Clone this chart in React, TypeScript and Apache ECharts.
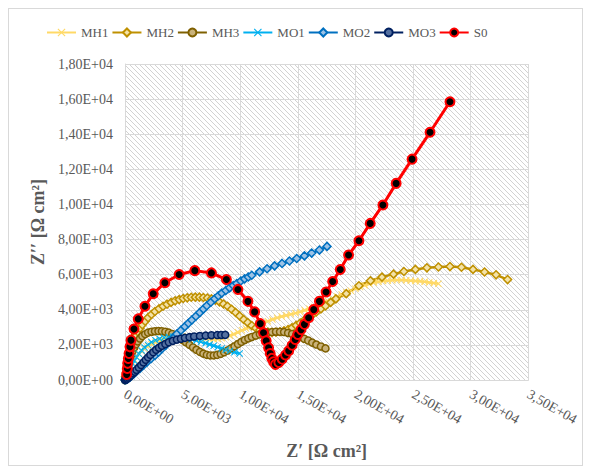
import React, { useEffect, useRef } from "react";
import * as echarts from "echarts";

const seriesNames = ["MH1", "MH2", "MH3", "MO1", "MO2", "MO3", "S0"];
const xTicks = [0, 5000, 10000, 15000, 20000, 25000, 30000, 35000];
const yTicks = [0, 2000, 4000, 6000, 8000, 10000, 12000, 14000, 16000, 18000];

const MH1: number[][] = [
  [0, 0], [80, 130], [150, 250], [220, 370], [300, 500], [400, 650], [500, 800], [650, 980], [800, 1150],
  [1000, 1330], [1200, 1500], [1450, 1650], [1700, 1800], [2000, 1930], [2300, 2050], [2650, 2160],
  [3000, 2250], [3400, 2330], [3800, 2400], [4200, 2450], [4600, 2480], [5000, 2490], [5400, 2480],
  [5800, 2450], [6200, 2420], [6600, 2380], [7000, 2350], [7350, 2330], [7700, 2320], [8050, 2340],
  [8400, 2380], [8750, 2440], [9100, 2520], [9450, 2610], [9800, 2720], [10150, 2830], [10500, 2930],
  [10850, 3020], [11200, 3100], [11600, 3180], [12000, 3250], [12400, 3350], [12800, 3450], [13200, 3540],
  [13600, 3620], [14000, 3690], [14400, 3750], [14800, 3810], [15200, 3880], [15600, 3970], [16000, 4060],
  [16400, 4160], [16800, 4260], [17200, 4380], [17600, 4500], [18000, 4620], [18400, 4750], [18800, 4870],
  [19200, 4980], [19600, 5090], [20000, 5200], [20400, 5300], [20800, 5400], [21200, 5480], [21600, 5550],
  [22000, 5600], [22400, 5640], [22800, 5660], [23200, 5680], [23600, 5690], [24000, 5690], [24400, 5680],
  [24800, 5660], [25200, 5640], [25600, 5620], [26000, 5590], [26400, 5560], [26800, 5520], [27200, 5480],
];
const MH2: number[][] = [
  [0, 0], [50, 200], [100, 400], [150, 600], [200, 800], [270, 1050], [350, 1300], [450, 1550], [550, 1800],
  [670, 2050], [800, 2300], [950, 2530], [1100, 2750], [1300, 2950], [1500, 3150], [1750, 3350], [2000, 3550],
  [2300, 3730], [2600, 3900], [2950, 4060], [3300, 4200], [3650, 4320], [4000, 4420], [4350, 4510],
  [4700, 4580], [5050, 4640], [5400, 4680], [5750, 4710], [6100, 4720], [6450, 4720], [6800, 4700],
  [7150, 4670], [7500, 4620], [7850, 4550], [8200, 4450], [8550, 4330], [8900, 4200], [9250, 4030],
  [9600, 3850], [9950, 3650], [10300, 3450], [10650, 3270], [11000, 3100], [11350, 2960], [11700, 2850],
  [12050, 2780], [12400, 2730], [12750, 2710], [13100, 2720], [13450, 2750], [13800, 2800], [14150, 2880],
  [14500, 2980], [14850, 3110], [15200, 3250], [15550, 3400], [15900, 3550], [16250, 3710], [16600, 3870],
  [17000, 4050], [17400, 4220], [17850, 4420], [18300, 4620], [19200, 4920], [20300, 5370], [21300, 5650],
  [22300, 5860], [23300, 6030], [24200, 6180], [25200, 6300], [26200, 6390], [27200, 6440], [28200, 6460],
  [29200, 6420], [30200, 6300], [31200, 6150], [32200, 5990], [33200, 5720],
];
const MH3: number[][] = [
  [0, 0], [50, 150], [100, 300], [150, 470], [200, 650], [270, 850], [350, 1050], [450, 1250], [550, 1450],
  [670, 1650], [800, 1850], [950, 2030], [1100, 2200], [1300, 2360], [1500, 2500], [1750, 2610], [2000, 2700],
  [2300, 2750], [2600, 2780], [2900, 2790], [3200, 2780], [3500, 2750], [3800, 2700], [4100, 2620],
  [4400, 2530], [4700, 2410], [5000, 2280], [5300, 2140], [5600, 2000], [5900, 1860], [6200, 1720],
  [6500, 1600], [6800, 1500], [7100, 1430], [7400, 1400], [7700, 1400], [8000, 1430], [8300, 1490],
  [8600, 1580], [8900, 1680], [9200, 1800], [9500, 1920], [9800, 2050], [10100, 2170], [10400, 2280],
  [10700, 2370], [11000, 2450], [11350, 2530], [11700, 2600], [12050, 2650], [12400, 2700], [12750, 2730],
  [13100, 2750], [13450, 2745], [13800, 2730], [14150, 2680], [14500, 2620], [14850, 2540], [15200, 2450],
  [15550, 2350], [15900, 2250], [16250, 2130], [16600, 2020], [17000, 1910], [17400, 1800],
];
const MO1: number[][] = [
  [0, 0], [80, 100], [150, 200], [220, 320], [300, 450], [400, 600], [500, 750], [650, 920], [800, 1100],
  [1000, 1300], [1200, 1500], [1450, 1680], [1700, 1850], [2000, 2000], [2300, 2150], [2650, 2260],
  [3000, 2350], [3400, 2410], [3800, 2450], [4200, 2460], [4600, 2450], [5000, 2420], [5400, 2380],
  [5800, 2320], [6200, 2250], [6600, 2180], [7000, 2100], [7350, 2020], [7700, 1950], [8050, 1870],
  [8400, 1800], [8750, 1720], [9100, 1650], [9500, 1580], [9950, 1510],
];
const MO2: number[][] = [
  [0, 0], [100, 30], [200, 60], [300, 100], [450, 170], [600, 260], [800, 380], [1000, 500], [1300, 660],
  [1600, 840], [1900, 1020], [2250, 1210], [2600, 1400], [2900, 1580], [3200, 1780], [3550, 1990],
  [3890, 2190], [4200, 2400], [4500, 2620], [4850, 2830], [5190, 3040], [5500, 3230], [5800, 3420],
  [6150, 3630], [6490, 3840], [6800, 4040], [7100, 4230], [7450, 4430], [7790, 4630], [8100, 4800],
  [8400, 4950], [8750, 5100], [9080, 5250], [9400, 5380], [9700, 5500], [10050, 5640], [10380, 5760],
  [10700, 5870], [11000, 5970], [11680, 6160], [12330, 6340], [12980, 6500], [13630, 6640], [14270, 6780],
  [14900, 6920], [15570, 7070], [16200, 7230], [16870, 7400], [17530, 7610],
];
const MO3: number[][] = [
  [0, 0], [60, 20], [120, 45], [200, 80], [300, 140], [400, 200], [550, 290], [700, 380], [850, 470],
  [1000, 570], [1200, 710], [1400, 850], [1600, 1000], [1800, 1150], [2000, 1290], [2200, 1430],
  [2450, 1580], [2700, 1720], [2950, 1840], [3200, 1950], [3500, 2050], [3800, 2150], [4150, 2230],
  [4500, 2300], [4850, 2350], [5200, 2400], [5600, 2440], [6000, 2480], [6500, 2510], [7000, 2530],
  [7500, 2550], [8000, 2560], [8350, 2565], [8700, 2570],
];
const S0: number[][] = [
  [145, 320], [200, 660], [230, 950], [290, 1230], [350, 1510], [430, 1890], [520, 2270], [780, 2900],
  [1150, 3480], [1730, 4200], [2450, 4910], [3460, 5540], [4700, 6010], [6060, 6230], [7500, 6100],
  [8800, 5720], [9800, 5160], [10670, 4480], [11250, 3880], [11740, 3210], [12020, 2690], [12250, 2230],
  [12460, 1840], [12600, 1510], [12740, 1230], [12890, 1040], [13060, 890], [13350, 1000], [13640, 1190],
  [13930, 1420], [14210, 1660], [14500, 1980], [14770, 2310], [14990, 2590], [15280, 2870], [15570, 3170],
  [15940, 3550], [16380, 4010], [16870, 4480], [17450, 5010], [18020, 5610], [18680, 6290], [19400, 7120],
  [20300, 7930], [21280, 8920], [22380, 9970], [23530, 11200], [24910, 12580], [26470, 14110], [28200, 15850],
];

const X_SYMBOL =
  "path://M1,0 L5,4 L9,0 L10,1 L6,5 L10,9 L9,10 L5,6 L1,10 L0,9 L4,5 L0,1 Z";

function sci(v: number): string {
  if (v === 0) return "0,00E+00";
  const e = Math.floor(Math.log10(Math.abs(v)) + 1e-9);
  const m = v / Math.pow(10, e);
  return (
    m.toFixed(2).replace(".", ",") +
    "E" +
    (e < 0 ? "-" : "+") +
    String(Math.abs(e)).padStart(2, "0")
  );
}

function makeHatch(): string {
  const s = 5;
  const c = document.createElement("canvas");
  c.width = s;
  c.height = s;
  const ctx = c.getContext("2d")!;
  ctx.fillStyle = "#ffffff";
  ctx.fillRect(0, 0, s, s);
  ctx.strokeStyle = "#d2d2d2";
  ctx.lineWidth = 1;
  for (const x0 of [-s, 0, s]) {
    ctx.beginPath();
    ctx.moveTo(x0, 0);
    ctx.lineTo(x0 + s, s);
    ctx.stroke();
  }
  return c.toDataURL();
}

export default function App() {
  const ref = useRef<HTMLDivElement>(null);
  useEffect(() => {
    if (!ref.current) return;
    const chart = echarts.init(ref.current, undefined, { renderer: "svg" });
    const font = "Liberation Serif";
    const gray = "#595959";
    const mk = (
      name: string,
      data: number[][],
      color: string,
      symbol: string,
      size: number,
      fill: string,
      lw: number,
      bw: number
    ) => ({
      name,
      type: "line",
      data,
      symbol,
      symbolSize: size,
      showAllSymbol: true,
      lineStyle: { color, width: lw },
      itemStyle: { color: fill, borderColor: color, borderWidth: bw },
      emphasis: { disabled: true },
      z: 2,
    });
    chart.setOption({
      animation: false,
      textStyle: { fontFamily: font },
      legend: {
        left: 32,
        top: 12,
        itemWidth: 29,
        itemHeight: 10,
        itemGap: 3,
        data: seriesNames,
        textStyle: { color: gray, fontSize: 13, fontFamily: font },
      },
      grid: {
        left: 116,
        top: 55,
        right: 53,
        bottom: 83,
        show: true,
        borderWidth: 0,
        backgroundColor: { image: makeHatch(), repeat: "repeat" } as any,
      },
      xAxis: {
        type: "value",
        min: xTicks[0],
        max: xTicks[xTicks.length - 1],
        interval: xTicks[1] - xTicks[0],
        name: "Z′ [Ω cm²]",
        nameLocation: "middle",
        nameGap: 62,
        nameTextStyle: { color: gray, fontSize: 18, fontWeight: "bold", fontFamily: font },
        axisLine: { show: true, lineStyle: { color: "#d9d9d9" } },
        axisTick: { show: false },
        splitLine: { show: true, lineStyle: { color: "#d9d9d9", width: 1 } },
        axisLabel: {
          rotate: -30,
          margin: 13,
          color: gray,
          fontSize: 14,
          fontFamily: font,
          formatter: (v: number) => sci(v),
        },
      },
      yAxis: {
        type: "value",
        min: yTicks[0],
        max: yTicks[yTicks.length - 1],
        interval: yTicks[1] - yTicks[0],
        name: "Z′′ [Ω cm²]",
        nameLocation: "middle",
        nameGap: 76,
        nameTextStyle: { color: gray, fontSize: 18, fontWeight: "bold", fontFamily: font },
        axisLine: { show: true, lineStyle: { color: "#d9d9d9" } },
        axisTick: { show: false },
        splitLine: { show: true, lineStyle: { color: "#d9d9d9", width: 1 } },
        axisLabel: {
          margin: 12,
          color: gray,
          fontSize: 14,
          fontFamily: font,
          formatter: (v: number) => sci(v),
        },
      },
      series: [
        mk("MH1", MH1, "#FFD966", X_SYMBOL, 7, "#FFD966", 2.5, 0),
        mk("MH2", MH2, "#BF9000", "diamond", 8, "#F4E3A8", 2.5, 1.5),
        mk("MH3", MH3, "#7F6000", "circle", 7, "#C9B27A", 2.5, 1.5),
        mk("MO1", MO1, "#00B0F0", X_SYMBOL, 7, "#00B0F0", 2.5, 0),
        mk("MO2", MO2, "#0070C0", "diamond", 8, "#9DC3E6", 2.5, 1.5),
        mk("MO3", MO3, "#002060", "circle", 7, "#5470A0", 2.5, 1.5),
        mk("S0", S0, "#FF0000", "circle", 9, "#000000", 3, 2),
      ],
    });
    return () => chart.dispose();
  }, []);
  return (
    <div style={{ width: 575, height: 458, border: "1px solid #d9d9d9", boxSizing: "border-box" }}>
      <div ref={ref} style={{ width: 573, height: 456 }} />
    </div>
  );
}
